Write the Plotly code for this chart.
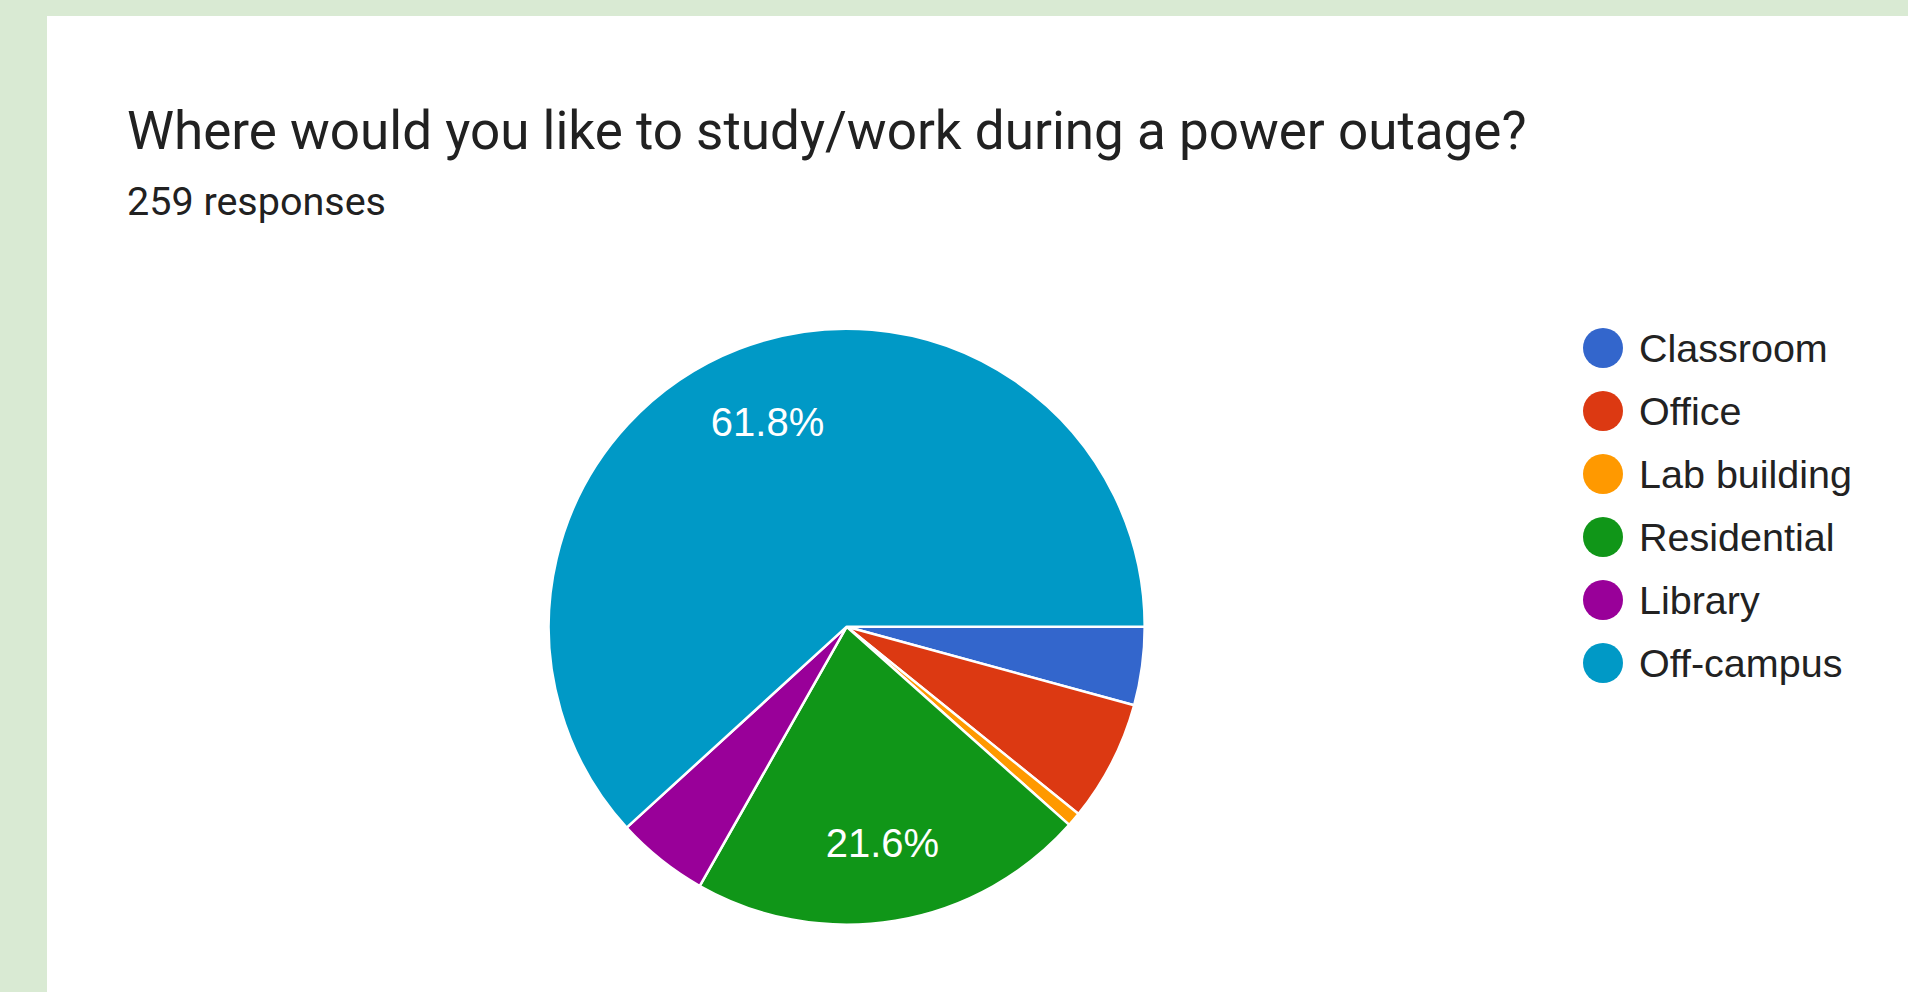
import plotly.graph_objects as go

W, H = 1908, 992

title_text = "Where would you like to study/work during a power outage?"
subtitle_text = "259 responses"

categories = ["Classroom", "Office", "Lab building", "Residential", "Library", "Off-campus"]
counts = [11, 17, 2, 56, 13, 160]
colors = ["#3366cc", "#dc3912", "#ff9900", "#109618", "#990099", "#0099c6"]
show_label = [False, False, False, True, False, True]

TITLE_FONT = "Roboto, Arial, sans-serif"
CHART_FONT = "Arial, 'Liberation Sans', sans-serif"


def px_x(p):
    return p / W


def px_y(p):
    return 1 - p / H


# pie geometry (pixels)
cx, cy, r = 846.7, 626.7, 298
pie_domain = dict(x=[px_x(cx - r), px_x(cx + r)], y=[px_y(cy + r), px_y(cy - r)])

fig = go.Figure()

# coloured slices
fig.add_trace(go.Pie(
    labels=categories,
    values=counts,
    sort=False,
    direction="clockwise",
    rotation=90,
    marker=dict(colors=colors, line=dict(color="white", width=2.5)),
    textinfo="none",
    hoverinfo="skip",
    showlegend=False,
    domain=pie_domain,
))

# percentage labels (transparent ring, so labels sit further out like Google Charts)
fig.add_trace(go.Pie(
    labels=categories,
    values=counts,
    sort=False,
    direction="clockwise",
    rotation=90,
    hole=0.47,
    marker=dict(colors=["rgba(0,0,0,0)"] * len(categories), line=dict(width=0)),
    texttemplate=["%{percent:.1%}" if s else "" for s in show_label],
    textposition="inside",
    insidetextorientation="horizontal",
    textfont=dict(family=CHART_FONT, size=40, color="white"),
    hoverinfo="skip",
    showlegend=False,
    domain=pie_domain,
))

# legend drawn as a scatter on hidden axes (circle markers + category tick labels)
fig.add_trace(go.Scatter(
    x=[0] * len(categories),
    y=categories,
    mode="markers",
    marker=dict(color=colors, size=40, line=dict(width=0)),
    hoverinfo="skip",
    showlegend=False,
    cliponaxis=False,
))

row_top, row_bottom = 316.5, 694.5
x0 = (1603 - 0.8 * W) / (0.2 * W)
fig.update_layout(
    width=W, height=H,
    margin=dict(l=0, r=0, t=0, b=0),
    paper_bgcolor="#d9ead3",
    plot_bgcolor="rgba(0,0,0,0)",
    showlegend=False,
    xaxis=dict(domain=[0.8, 1.0], range=[-x0, 1 - x0], visible=False, fixedrange=True),
    yaxis=dict(domain=[px_y(row_bottom), px_y(row_top)], type="category",
               categoryorder="array", categoryarray=categories,
               range=[len(categories) - 0.5, -0.5],
               side="right", anchor="free", position=px_x(1638),
               showgrid=False, zeroline=False, showline=False, ticks="",
               tickfont=dict(family=CHART_FONT, size=39.5, color="#222222"),
               fixedrange=True),
    shapes=[dict(type="rect", xref="paper", yref="paper", x0=px_x(47), x1=1, y0=0, y1=px_y(16),
                 fillcolor="white", line=dict(width=0), layer="below")],
    annotations=[
        dict(text=title_text, xref="paper", yref="paper", x=px_x(125), y=px_y(131),
             xanchor="left", yanchor="middle", showarrow=False,
             font=dict(family=TITLE_FONT, size=53, color="#212121")),
        dict(text=subtitle_text, xref="paper", yref="paper", x=px_x(125), y=px_y(201),
             xanchor="left", yanchor="middle", showarrow=False,
             font=dict(family=TITLE_FONT, size=39.5, color="#212121")),
    ],
)

fig.write_html("out.html", config={"displayModeBar": False})
